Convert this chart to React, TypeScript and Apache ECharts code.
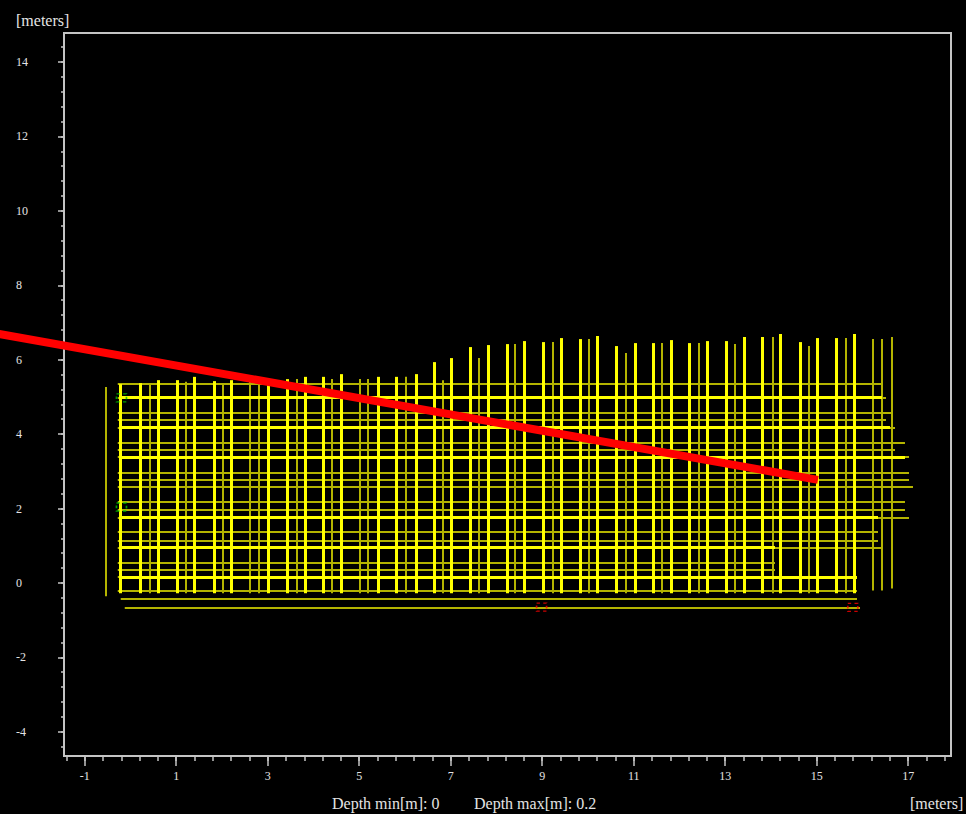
import React, { useEffect, useRef } from "react";
import * as echarts from "echarts";

// Axis extents and tick labels
const X_MIN = -1.453;
const X_MAX = 17.937;
const Y_MIN = -4.651;
const Y_MAX = 14.78;
const xMajorTicks = [-1, 1, 3, 5, 7, 9, 11, 13, 15, 17];
const yMajorTicks = [-4, -2, 0, 2, 4, 6, 8, 10, 12, 14];
const xMinorStart = -1.4;
const xMinorEnd = 17.8;
const yMinorStart = -4.4;
const yMinorEnd = 14.4;
const MINOR_STEP = 0.4;

// Bright (dense) vertical profiles: x, top y, bottom y
const brightVX = [-0.213, 0.218, 0.603, 1.027, 1.405, 1.821, 2.208, 3.002, 3.433, 3.811, 4.211, 4.613, 5.414, 5.801, 6.253, 6.632, 7.014, 7.419, 7.813, 8.228, 8.6, 9.015, 9.424, 9.824, 10.203, 10.623, 11.027, 11.427, 11.814, 12.215, 12.617, 13.032, 13.411, 13.811, 14.213, 14.635, 15.014, 15.422, 15.823];
const brightVTop = [5.343, 5.37, 5.45, 5.45, 5.539, 5.424, 5.45, 5.45, 5.478, 5.539, 5.539, 5.612, 5.539, 5.539, 5.612, 5.935, 6.043, 6.339, 6.393, 6.419, 6.5, 6.473, 6.581, 6.554, 6.634, 6.366, 6.446, 6.446, 6.527, 6.446, 6.5, 6.5, 6.608, 6.608, 6.688, 6.473, 6.581, 6.581, 6.688];
const brightVBottom = [-0.28, -0.28, -0.28, -0.28, -0.28, -0.28, -0.28, -0.28, -0.28, -0.28, -0.28, -0.28, -0.28, -0.28, -0.28, -0.28, -0.28, -0.28, -0.28, -0.28, -0.28, -0.28, -0.28, -0.28, -0.28, -0.28, -0.28, -0.28, -0.28, -0.28, -0.28, -0.28, -0.28, -0.28, -0.28, -0.28, -0.28, -0.28, -0.28];

// Faint vertical profiles
const dimVX = [-0.547, 0.421, 1.209, 2.018, 2.608, 2.805, 3.629, 4.395, 5.014, 5.195, 6.02, 6.835, 7.622, 8.41, 9.227, 10.015, 10.831, 11.611, 12.433, 13.214, 14.03, 14.817, 15.634, 16.225, 16.422, 16.641];
const dimVTop = [5.263, 5.37, 5.405, 5.37, 5.45, 5.37, 5.478, 5.478, 5.478, 5.478, 5.539, 5.45, 6.043, 6.419, 6.473, 6.554, 6.177, 6.446, 6.446, 6.419, 6.608, 6.366, 6.581, 6.554, 6.554, 6.608];
const dimVBottom = [-0.36, -0.28, -0.28, -0.28, -0.28, -0.28, -0.28, -0.28, -0.28, -0.28, -0.28, -0.28, -0.28, -0.28, -0.28, -0.28, -0.28, -0.28, -0.28, -0.28, -0.28, -0.28, -0.28, -0.2, -0.2, -0.15];

// Faint horizontal profiles: y, left x, right x
const dimHY = [5.343, 4.98, 4.571, 4.374, 4.173, 3.764, 3.567, 3.387, 2.957, 2.76, 2.58, 2.176, 1.972, 1.765, 1.388, 1.146, 0.958, 0.554, 0.358, 0.164, -0.218, -0.422, -0.665];
const dimHLeft = [-0.278, -0.278, -0.278, -0.278, -0.278, -0.278, -0.278, -0.278, -0.278, -0.278, -0.278, -0.278, -0.278, -0.278, -0.278, -0.278, -0.278, -0.278, -0.278, -0.278, -0.278, -0.213, -0.125];
const dimHRight = [16.429, 16.516, 16.647, 16.516, 16.713, 16.931, 16.713, 17.019, 17.019, 17.019, 17.106, 16.931, 16.931, 17.019, 16.341, 16.341, 16.429, 14.089, 14.089, 15.882, 15.882, 15.882, 15.948];

// Bright horizontal profiles
const brightHY = [4.98, 4.173, 3.387, 1.765, 0.958, 0.164];
const brightHLeft = [-0.2, -0.2, -0.2, -0.2, -0.2, -0.2];
const brightHRight = [16.429, 16.603, 16.931, 16.341, 14.089, 15.882];

// Red interpretation line (start x, start y, end x, end y)
const redLineStart = [-3.0, 6.72];
const redLineEnd = [15.029, 2.771];

// Markers
const greenMarkX = [-0.197, -0.197];
const greenMarkY = [4.972, 2.042];
const redMarkX = [8.987, 15.79];
const redMarkY = [-0.648, -0.656];

const FONT = "'Liberation Serif', 'Times New Roman', serif";
const AXIS_COLOR = "#c4c4c4";
const LABEL_COLOR = "#e4e4e4";

function minorTicks(start: number, end: number, step: number) {
  const out: number[] = [];
  const n = Math.round((end - start) / step);
  for (let i = 0; i <= n; i++) out.push(Math.round((start + i * step) * 1000) / 1000);
  return out;
}

function vSegments(xs: number[], tops: number[], bottoms: number[]) {
  return xs.map((x, i) => ({ coords: [[x, bottoms[i]], [x, tops[i]]] }));
}
function hSegments(ys: number[], lefts: number[], rights: number[]) {
  return ys.map((y, i) => ({ coords: [[lefts[i], y], [rights[i], y]] }));
}

export default function App() {
  const ref = useRef<HTMLDivElement>(null);
  useEffect(() => {
    if (!ref.current) return;
    const chart = echarts.init(ref.current, null, { renderer: "svg" });
    const xMinor = minorTicks(xMinorStart, xMinorEnd, MINOR_STEP);
    const yMinor = minorTicks(yMinorStart, yMinorEnd, MINOR_STEP);
    const tickLine = { color: AXIS_COLOR, width: 1.5 };
    const labelStyle = { color: LABEL_COLOR, fontFamily: FONT, fontSize: 12 };
    const dimColor = "#b4b400";
    const brightColor = "#ffff00";

    const option: any = {
      animation: false,
      backgroundColor: "#000000",
      grid: {
        left: 64,
        top: 33,
        width: 887,
        height: 723,
        show: true,
        borderColor: AXIS_COLOR,
        borderWidth: 2,
        backgroundColor: "transparent",
      },
      xAxis: [
        {
          type: "value",
          min: X_MIN,
          max: X_MAX,
          position: "bottom",
          axisLine: { show: true, onZero: false, lineStyle: { color: AXIS_COLOR, width: 2 } },
          axisTick: { show: true, customValues: xMajorTicks, length: 10, lineStyle: tickLine },
          axisLabel: { show: true, customValues: xMajorTicks, margin: 14, ...labelStyle },
          splitLine: { show: false },
        },
        {
          type: "value",
          min: X_MIN,
          max: X_MAX,
          position: "bottom",
          axisLine: { show: false, onZero: false },
          axisTick: { show: true, customValues: xMinor, length: 5, lineStyle: tickLine },
          axisLabel: { show: false },
          splitLine: { show: false },
        },
      ],
      yAxis: [
        {
          type: "value",
          min: Y_MIN,
          max: Y_MAX,
          position: "left",
          axisLine: { show: true, onZero: false, lineStyle: { color: AXIS_COLOR, width: 2 } },
          axisTick: { show: true, customValues: yMajorTicks, length: 6, lineStyle: tickLine },
          axisLabel: { show: true, customValues: yMajorTicks, margin: 48, align: "left", ...labelStyle },
          splitLine: { show: false },
        },
        {
          type: "value",
          min: Y_MIN,
          max: Y_MAX,
          position: "left",
          axisLine: { show: false, onZero: false },
          axisTick: { show: true, customValues: yMinor, length: 3, lineStyle: tickLine },
          axisLabel: { show: false },
          splitLine: { show: false },
        },
      ],
      series: [
        {
          type: "lines",
          coordinateSystem: "cartesian2d",
          xAxisIndex: 0,
          yAxisIndex: 0,
          silent: true,
          lineStyle: { color: dimColor, width: 2, opacity: 1 },
          data: vSegments(dimVX, dimVTop, dimVBottom),
        },
        {
          type: "lines",
          coordinateSystem: "cartesian2d",
          xAxisIndex: 0,
          yAxisIndex: 0,
          silent: true,
          lineStyle: { color: dimColor, width: 2, opacity: 1 },
          data: hSegments(dimHY, dimHLeft, dimHRight),
        },
        {
          type: "lines",
          coordinateSystem: "cartesian2d",
          xAxisIndex: 0,
          yAxisIndex: 0,
          silent: true,
          lineStyle: { color: brightColor, width: 3, opacity: 1 },
          data: vSegments(brightVX, brightVTop, brightVBottom),
        },
        {
          type: "lines",
          coordinateSystem: "cartesian2d",
          xAxisIndex: 0,
          yAxisIndex: 0,
          silent: true,
          lineStyle: { color: brightColor, width: 3, opacity: 1 },
          data: hSegments(brightHY, brightHLeft, brightHRight),
        },
        {
          type: "scatter",
          xAxisIndex: 0,
          yAxisIndex: 0,
          symbol: "rect",
          symbolSize: [10, 8],
          silent: true,
          itemStyle: { color: "transparent", borderColor: "#00c800", borderWidth: 1.5, borderType: [3, 3] },
          data: greenMarkX.map((x, i) => [x, greenMarkY[i]]),
        },
        {
          type: "scatter",
          xAxisIndex: 0,
          yAxisIndex: 0,
          symbol: "rect",
          symbolSize: [10, 8],
          silent: true,
          itemStyle: { color: "transparent", borderColor: "#ff0000", borderWidth: 1.5, borderType: [3, 3] },
          data: redMarkX.map((x, i) => [x, redMarkY[i]]),
        },
        {
          type: "custom",
          xAxisIndex: 0,
          yAxisIndex: 0,
          clip: false,
          silent: true,
          dimensions: ["x0", "y0", "x1", "y1"],
          encode: { x: [0, 2], y: [1, 3] },
          data: [[redLineStart[0], redLineStart[1], redLineEnd[0], redLineEnd[1]]],
          renderItem: (_params: any, api: any) => {
            const p0 = api.coord([api.value(0), api.value(1)]);
            const p1 = api.coord([api.value(2), api.value(3)]);
            return {
              type: "line",
              shape: { x1: p0[0], y1: p0[1], x2: p1[0], y2: p1[1] },
              style: { stroke: "#ff0000", lineWidth: 8, lineCap: "butt" },
            };
          },
        },
      ],
      graphic: [
        { type: "text", left: 16, top: 12, style: { text: "[meters]", fill: LABEL_COLOR, font: `16px ${FONT}` } },
        { type: "text", left: 332, top: 795, style: { text: "Depth min[m]: 0", fill: LABEL_COLOR, font: `16px ${FONT}` } },
        { type: "text", left: 474, top: 795, style: { text: "Depth max[m]: 0.2", fill: LABEL_COLOR, font: `16px ${FONT}` } },
        { type: "text", left: 910, top: 795, style: { text: "[meters]", fill: LABEL_COLOR, font: `16px ${FONT}` } },
      ],
    };
    chart.setOption(option);
    return () => chart.dispose();
  }, []);
  return (
    <div
      ref={ref}
      style={{ position: "absolute", left: 0, top: 0, width: 966, height: 814, background: "#000" }}
    />
  );
}
